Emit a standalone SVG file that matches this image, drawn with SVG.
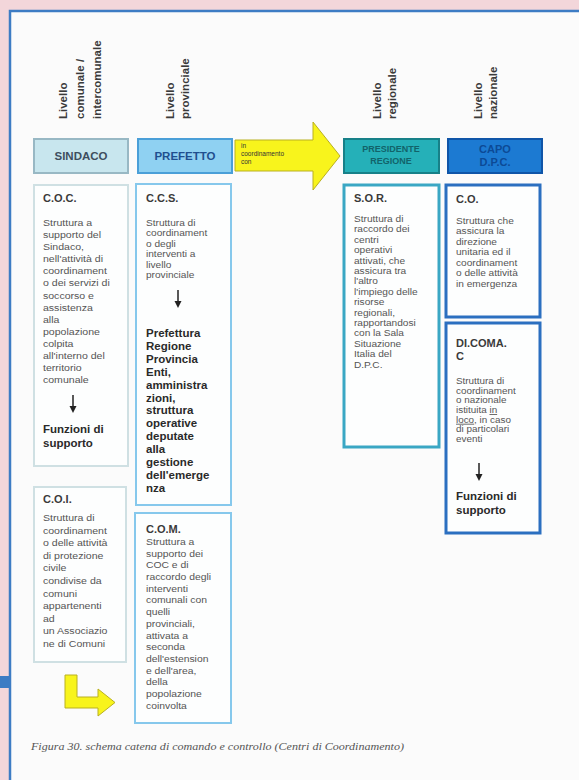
<svg xmlns="http://www.w3.org/2000/svg" width="579" height="780" viewBox="0 0 579 780">
<defs>
<style>
.hdr{font-family:"Liberation Sans",Arial,sans-serif;font-size:11.5px;font-weight:bold;fill:#3a3a3a}
.title{font-family:"Liberation Sans",Arial,sans-serif;font-size:11px;font-weight:bold;fill:#3a3a3a}
.body{font-family:"Liberation Sans",Arial,sans-serif;font-size:9.2px;fill:#555}
.bodyl{font-family:"Liberation Sans",Arial,sans-serif;font-size:9.6px;fill:#555}
.bodys{font-family:"Liberation Sans",Arial,sans-serif;font-size:8.6px;fill:#555}
.bold{font-family:"Liberation Sans",Arial,sans-serif;font-size:11.5px;font-weight:bold;fill:#2a2a2a}
.boxlbl{font-family:"Liberation Sans",Arial,sans-serif;font-weight:bold;text-anchor:middle}
.gray{fill:#fdfefe;stroke:#cfe0e3;stroke-width:2}
.lblue{fill:#fdfefe;stroke:#86c8ec;stroke-width:2}
.teal{fill:#fdfefe;stroke:#3aa7c4;stroke-width:3}
.dblue{fill:#fdfefe;stroke:#2b6fc0;stroke-width:3}
.yellow{fill:#f8f41c;stroke:#b9b020;stroke-width:1}
.tiny{font-family:"Liberation Sans",Arial,sans-serif;font-size:6.5px;fill:#333}
.stem{stroke:#222;stroke-width:1.5}
.head{fill:#222}
</style>
</defs>
<rect x="0" y="0" width="579" height="780" fill="#f3d6da"/>
<rect x="10" y="11" width="580" height="780" fill="#fbfbfb" stroke="#3d7cc4" stroke-width="2.5"/>
<rect x="0" y="676" width="10" height="12" fill="#3d7cc4"/>

<g id="level-headers">
<text class="hdr" transform="translate(67,119) rotate(-90)">Livello</text>
<text class="hdr" transform="translate(84,119) rotate(-90)">comunale /</text>
<text class="hdr" transform="translate(101,119) rotate(-90)">intercomunale</text>
<text class="hdr" transform="translate(174,119) rotate(-90)">Livello</text>
<text class="hdr" transform="translate(189,119) rotate(-90)">provinciale</text>
<text class="hdr" transform="translate(381,119) rotate(-90)">Livello</text>
<text class="hdr" transform="translate(396,119) rotate(-90)">regionale</text>
<text class="hdr" transform="translate(482,119) rotate(-90)">Livello</text>
<text class="hdr" transform="translate(497,119) rotate(-90)">nazionale</text>
</g>

<g id="sindaco">
<rect x="34" y="139" width="94" height="34" fill="#c8e6ee" stroke="#98b8c4" stroke-width="2"/>
<text class="boxlbl" x="81" y="160" font-size="11.5" fill="#3e4e5e">SINDACO</text>
</g>
<g id="prefetto">
<rect x="138" y="139" width="94" height="34" fill="#8fd1f2" stroke="#4a9fd8" stroke-width="2"/>
<text class="boxlbl" x="185" y="160" font-size="11.5" fill="#1f4f8f">PREFETTO</text>
</g>
<g id="presidente-regione">
<rect x="344" y="139" width="95" height="34" fill="#25b0b8" stroke="#178088" stroke-width="2"/>
<text class="boxlbl" x="391" y="152" font-size="9" fill="#12636a">PRESIDENTE</text>
<text class="boxlbl" x="391" y="164" font-size="9" fill="#12636a">REGIONE</text>
</g>
<g id="capo-dpc">
<rect x="448" y="139" width="94" height="34" fill="#1c7ad2" stroke="#0f55a8" stroke-width="2"/>
<text class="boxlbl" x="495" y="153" font-size="11" fill="#0c4a96">CAPO</text>
<text class="boxlbl" x="495" y="166" font-size="11" fill="#0c4a96">D.P.C.</text>
</g>

<g id="coordination-arrow">
<polygon class="yellow" points="235,140 313,140 313,122 340,156 313,190 313,171 235,171"/>
<text class="tiny" x="241" y="148">in</text>
<text class="tiny" x="241" y="156">coordinamento</text>
<text class="tiny" x="241" y="164">con</text>
</g>

<g id="coc">
<rect class="gray" x="34" y="185" width="94" height="281"/>
<text class="title" x="43" y="202">C.O.C.</text>
<g transform="matrix(1.1,0,0,1,-4.3,0)">
<text class="bodyl" x="43" y="226">Struttura a</text>
<text class="bodyl" x="43" y="238.1">supporto del</text>
<text class="bodyl" x="43" y="250.2">Sindaco,</text>
<text class="bodyl" x="43" y="262.3">nell'attività di</text>
<text class="bodyl" x="43" y="274.4">coordinament</text>
<text class="bodyl" x="43" y="286.5">o dei servizi di</text>
<text class="bodyl" x="43" y="298.6">soccorso e</text>
<text class="bodyl" x="43" y="310.7">assistenza</text>
<text class="bodyl" x="43" y="322.8">alla</text>
<text class="bodyl" x="43" y="334.9">popolazione</text>
<text class="bodyl" x="43" y="347">colpita</text>
<text class="bodyl" x="43" y="359.1">all'interno del</text>
<text class="bodyl" x="43" y="371.2">territorio</text>
<text class="bodyl" x="43" y="383.3">comunale</text>
</g>
<text class="bold" x="43" y="433">Funzioni di</text>
<text class="bold" x="43" y="447">supporto</text>
</g>

<g id="ccs">
<rect class="lblue" x="136" y="184" width="95" height="321"/>
<text class="title" x="146" y="202">C.C.S.</text>
<g transform="matrix(1.1,0,0,1,-14.6,0)">
<text class="body" x="146" y="226">Struttura di</text>
<text class="body" x="146" y="236.5">coordinament</text>
<text class="body" x="146" y="247">o degli</text>
<text class="body" x="146" y="257.5">interventi a</text>
<text class="body" x="146" y="268">livello</text>
<text class="body" x="146" y="278.5">provinciale</text>
</g>
<text class="bold" x="146" y="337">Prefettura</text>
<text class="bold" x="146" y="349.9">Regione</text>
<text class="bold" x="146" y="362.8">Provincia</text>
<text class="bold" x="146" y="375.7">Enti,</text>
<text class="bold" x="146" y="388.6">amministra</text>
<text class="bold" x="146" y="401.5">zioni,</text>
<text class="bold" x="146" y="414.4">struttura</text>
<text class="bold" x="146" y="427.3">operative</text>
<text class="bold" x="146" y="440.2">deputate</text>
<text class="bold" x="146" y="453.1">alla</text>
<text class="bold" x="146" y="466">gestione</text>
<text class="bold" x="146" y="478.9">dell'emerge</text>
<text class="bold" x="146" y="491.8">nza</text>
</g>

<g id="sor">
<rect class="teal" x="344" y="185" width="95" height="262"/>
<text class="title" x="354" y="202">S.O.R.</text>
<g transform="matrix(1.1,0,0,1,-35.4,0)">
<text class="body" x="354" y="222">Struttura di</text>
<text class="body" x="354" y="232.4">raccordo dei</text>
<text class="body" x="354" y="242.8">centri</text>
<text class="body" x="354" y="253.2">operativi</text>
<text class="body" x="354" y="263.6">attivati, che</text>
<text class="body" x="354" y="274">assicura tra</text>
<text class="body" x="354" y="284.4">l'altro</text>
<text class="body" x="354" y="294.8">l'impiego delle</text>
<text class="body" x="354" y="305.2">risorse</text>
<text class="body" x="354" y="315.6">regionali,</text>
<text class="body" x="354" y="326">rapportandosi</text>
<text class="body" x="354" y="336.4">con la Sala</text>
<text class="body" x="354" y="346.8">Situazione</text>
<text class="body" x="354" y="357.2">Italia del</text>
<text class="body" x="354" y="367.6">D.P.C.</text>
</g>
</g>

<g id="co">
<rect class="dblue" x="446" y="185" width="94" height="132"/>
<text class="title" x="456" y="203">C.O.</text>
<g transform="matrix(1.1,0,0,1,-45.6,0)">
<text class="body" x="456" y="224">Struttura che</text>
<text class="body" x="456" y="234.5">assicura la</text>
<text class="body" x="456" y="245">direzione</text>
<text class="body" x="456" y="255.5">unitaria ed il</text>
<text class="body" x="456" y="266">coordinament</text>
<text class="body" x="456" y="276.5">o delle attività</text>
<text class="body" x="456" y="287">in emergenza</text>
</g>
</g>

<g id="dicomac">
<rect class="dblue" x="446" y="323" width="94" height="210"/>
<text class="title" x="456" y="347">DI.COMA.</text>
<text class="title" x="456" y="360">C</text>
<g transform="matrix(1.15,0,0,1,-68.4,0)">
<text class="bodys" x="456" y="384">Struttura di</text>
<text class="bodys" x="456" y="393.7">coordinament</text>
<text class="bodys" x="456" y="403.4">o nazionale</text>
<text class="bodys" x="456" y="413.1">istituita <tspan text-decoration="underline">in</tspan></text>
<text class="bodys" x="456" y="422.8"><tspan text-decoration="underline">loco</tspan>, in caso</text>
<text class="bodys" x="456" y="432.5">di particolari</text>
<text class="bodys" x="456" y="442.2">eventi</text>
</g>
<text class="bold" x="456" y="500">Funzioni di</text>
<text class="bold" x="456" y="514">supporto</text>
</g>

<g id="coi">
<rect class="gray" x="34" y="487" width="92" height="175"/>
<text class="title" x="43" y="503">C.O.I.</text>
<g transform="matrix(1.1,0,0,1,-4.3,0)">
<text class="bodyl" x="43" y="521">Struttura di</text>
<text class="bodyl" x="43" y="533.6">coordinament</text>
<text class="bodyl" x="43" y="546.2">o delle attività</text>
<text class="bodyl" x="43" y="558.8">di protezione</text>
<text class="bodyl" x="43" y="571.4">civile</text>
<text class="bodyl" x="43" y="584">condivise da</text>
<text class="bodyl" x="43" y="596.6">comuni</text>
<text class="bodyl" x="43" y="609.2">appartenenti</text>
<text class="bodyl" x="43" y="621.8">ad</text>
<text class="bodyl" x="43" y="634.4">un Associazio</text>
<text class="bodyl" x="43" y="647">ne di Comuni</text>
</g>
</g>

<g id="com">
<rect class="lblue" x="135" y="513" width="96" height="210"/>
<text class="title" x="146" y="533">C.O.M.</text>
<g transform="matrix(1.08,0,0,1,-11.7,0)">
<text class="bodyl" x="146" y="545">Struttura a</text>
<text class="bodyl" x="146" y="556.7">supporto dei</text>
<text class="bodyl" x="146" y="568.4">COC e di</text>
<text class="bodyl" x="146" y="580.1">raccordo degli</text>
<text class="bodyl" x="146" y="591.8">interventi</text>
<text class="bodyl" x="146" y="603.5">comunali con</text>
<text class="bodyl" x="146" y="615.2">quelli</text>
<text class="bodyl" x="146" y="626.9">provinciali,</text>
<text class="bodyl" x="146" y="638.6">attivata a</text>
<text class="bodyl" x="146" y="650.3">seconda</text>
<text class="bodyl" x="146" y="662">dell'estension</text>
<text class="bodyl" x="146" y="673.7">e dell'area,</text>
<text class="bodyl" x="146" y="685.4">della</text>
<text class="bodyl" x="146" y="697.1">popolazione</text>
<text class="bodyl" x="146" y="708.8">coinvolta</text>
</g>
</g>

<g id="connectors">
<line class="stem" x1="73" y1="395" x2="73" y2="407"/>
<polygon class="head" points="69.5,406 76.5,406 73,413"/>
<line class="stem" x1="178" y1="290" x2="178" y2="302"/>
<polygon class="head" points="174.5,301 181.5,301 178,308"/>
<line class="stem" x1="479" y1="463" x2="479" y2="475"/>
<polygon class="head" points="475.5,474 482.5,474 479,481"/>
<polygon class="yellow" points="65,675 77,675 77,697 98,697 98,689 115,702.5 98,716 98,708 65,708"/>
</g>

<text x="31" y="750" font-family="Liberation Serif, 'Times New Roman', serif" font-style="italic" font-size="10.5" fill="#555" textLength="373" lengthAdjust="spacingAndGlyphs">Figura 30. schema catena di comando e controllo (Centri di Coordinamento)</text>
</svg>
